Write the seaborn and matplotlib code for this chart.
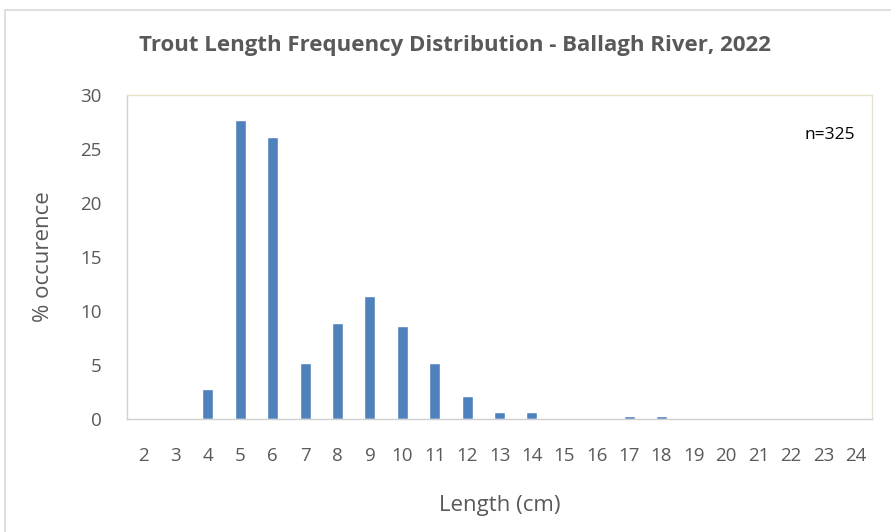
import matplotlib
matplotlib.use('Agg')
import matplotlib.pyplot as plt
import seaborn as sns
import pandas as pd
from matplotlib.patches import Rectangle

sns.set_style('white')
plt.rcParams['font.family'] = ['Open Sans', 'DejaVu Sans']

lengths = [str(v) for v in range(2, 25)]
percent = [0, 0, 2.77, 27.69, 26.15, 5.23, 8.92, 11.38, 8.62, 5.23, 2.15,
           0.62, 0.62, 0, 0, 0.31, 0.31, 0, 0, 0, 0, 0, 0]

df = pd.DataFrame({'Length (cm)': lengths, '% occurence': percent})

fig = plt.figure(figsize=(8.91, 5.32), dpi=100)
ax = fig.add_axes([127 / 891, 1 - 419 / 532, 745 / 891, 324 / 532])

sns.barplot(data=df, x='Length (cm)', y='% occurence', order=lengths,
            color='#4f81bd', saturation=1, width=0.34, ax=ax)

grey = '#595959'
ax.set_ylim(0, 30)
ax.set_yticks(range(0, 31, 5))
ax.tick_params(axis='both', colors=grey, labelsize=13.5, length=0)
ax.tick_params(axis='y', pad=18)
ax.tick_params(axis='x', pad=20)
ax.set_xlabel('Length (cm)', fontsize=16, color=grey, labelpad=22)
ax.set_ylabel('% occurence', fontsize=16, color=grey, labelpad=19)

for side in ['top', 'right']:
    ax.spines[side].set_color('#e8e2c8')
for side in ['left', 'bottom']:
    ax.spines[side].set_color('#d0d0d0')
for s in ax.spines.values():
    s.set_linewidth(1)

ax.text(0.944, 0.877, 'n=325', transform=ax.transAxes, fontsize=12.5,
        color='black', ha='center', va='center')

fig.text(455 / 891, 1 - 46 / 532, 'Trout Length Frequency Distribution - Ballagh River, 2022',
         ha='center', va='center', fontsize=16, fontweight='bold', color=grey)

fig.patches.append(Rectangle((5 / 891, -0.05), 1.0, 1 - 10 / 532 + 0.05,
                             transform=fig.transFigure, fill=False,
                             edgecolor='#d9d9d9', linewidth=1.2))

fig.savefig('out.png', dpi=100)
